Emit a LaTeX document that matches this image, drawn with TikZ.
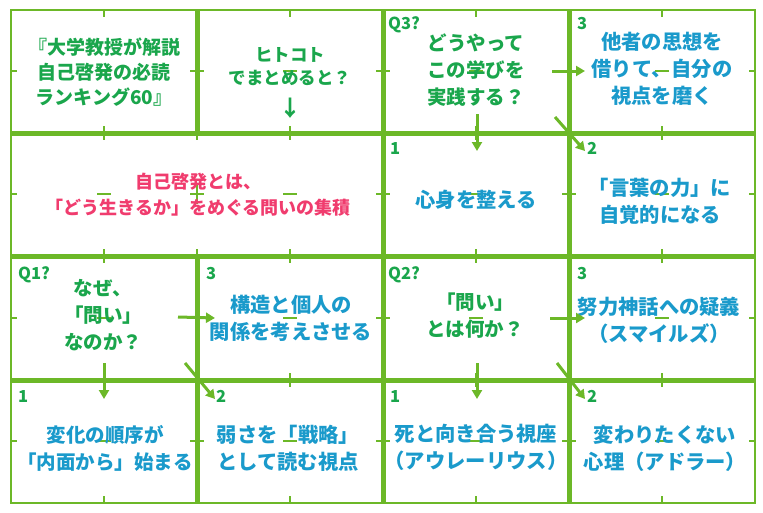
\documentclass[tikz,border=0pt]{standalone}
\usepackage{fontspec}
\setmainfont{Noto Sans CJK JP}
\usetikzlibrary{arrows.meta}
\definecolor{gline}{HTML}{6CB828}
\definecolor{gtext}{HTML}{1AA64C}
\definecolor{btext}{HTML}{1A9ACB}
\definecolor{ptext}{HTML}{F03C6E}
\tikzset{
  gridline/.style={draw=gline, line width=5pt},
  outerline/.style={draw=gline, line width=2.5pt},
  tickline/.style={draw=gline, line width=1.2pt},
  flowarrow/.style={draw=gline, line width=3pt, -{Triangle[length=9pt,width=10pt]}},
  celltext/.style={align=center, inner sep=0pt},
  qtext/.style={celltext, text=gtext, font=\fontsize{19.5}{27}\selectfont\bfseries},
  atext/.style={celltext, text=btext, font=\fontsize{20.3}{27}\selectfont\bfseries},
  ptextstyle/.style={celltext, text=ptext, font=\fontsize{18}{26}\selectfont\bfseries},
  numlabel/.style={anchor=base west, inner sep=0pt, text=gtext, font=\fontsize{16.5}{16}\selectfont\bfseries},
}
\begin{document}
\begin{tikzpicture}[x=1pt,y=-1pt]
\useasboundingbox (0,0) rectangle (763,512);
% ticks
\foreach \x in {104,197,290,476,662} {
  \foreach \y in {133,256,380} { \draw[tickline] (\x,\y-7) -- (\x,\y+7); }
}
\foreach \x in {104,290,476,662} {
  \draw[tickline] (\x,10) -- (\x,17);
  \draw[tickline] (\x,503) -- (\x,496);
  \foreach \y in {71,194,318,441} { \draw[tickline] (\x-7,\y) -- (\x+7,\y); }
}
\foreach \y in {71,194,318,441} {
  \foreach \x in {197,383,569} { \draw[tickline] (\x-7,\y) -- (\x+7,\y); }
  \draw[tickline] (11,\y) -- (17,\y);
  \draw[tickline] (755,\y) -- (749,\y);
}
\draw[tickline] (197,184) -- (197,204);
% grid
\draw[outerline] (11,10) rectangle (755,503);
\draw[gridline] (197,10) -- (197,133);
\draw[gridline] (197,256) -- (197,503);
\draw[gridline] (383,10) -- (383,503);
\draw[gridline] (569,10) -- (569,503);
\draw[gridline] (11,133) -- (755,133);
\draw[gridline] (11,256) -- (755,256);
\draw[gridline] (11,380) -- (755,380);
% texts
\node[qtext, font=\fontsize{19}{25}\selectfont\bfseries] (title) at (104,72) {『大学教授が解説\\自己啓発の必読\\ランキング60』};
\node[qtext, font=\fontsize{17.5}{23}\selectfont\bfseries] (hitokoto) at (290,67) {ヒトコト\\でまとめると？};
\node[celltext, text=gtext, font=\fontsize{22}{22}\selectfont\bfseries] (hitokotoarrow) at (290,108) {↓};
\node[qtext] (q3) at (476,70) {どうやって\\この学びを\\実践する？};
\node[atext] (q3a3) at (662,69) {他者の思想を\\借りて、自分の\\視点を磨く};
\node[ptextstyle] (core) at (198,195) {自己啓発とは、\\「どう生きるか」をめぐる問いの集積};
\node[atext] (q3a1) at (476,200) {心身を整える};
\node[atext] (q3a2) at (660,201) {「言葉の力」に\\自覚的になる};
\node[qtext] (q1) at (103,315) {なぜ、\\「問い」\\なのか？};
\node[atext] (q1a3) at (291,318) {構造と個人の\\関係を考えさせる};
\node[qtext] (q2) at (475,316) {「問い」\\とは何か？};
\node[atext] (q2a3) at (659,320) {努力神話への疑義\\（スマイルズ）};
\node[atext, font=\fontsize{19.5}{27}\selectfont\bfseries] (q1a1) at (105,448) {変化の順序が\\「内面から」始まる};
\node[atext] (q1a2) at (288,448) {弱さを「戦略」\\として読む視点};
\node[atext] (q2a1) at (476,447) {死と向き合う視座\\（アウレーリウス）};
\node[atext] (q2a2) at (665,448) {変わりたくない\\心理（アドラー）};
% labels
\node[numlabel] (lq3) at (388,29) {Q3?};
\node[numlabel] (lq3n3) at (577,29) {3};
\node[numlabel] (lq3n1) at (390,154) {1};
\node[numlabel] (lq3n2) at (587,154) {2};
\node[numlabel] (lq1) at (18,279) {Q1?};
\node[numlabel] (lq1n3) at (206,279) {3};
\node[numlabel] (lq2) at (388,279) {Q2?};
\node[numlabel] (lq2n3) at (577,279) {3};
\node[numlabel] (lq1n1) at (18,402) {1};
\node[numlabel] (lq1n2) at (216,402) {2};
\node[numlabel] (lq2n1) at (390,402) {1};
\node[numlabel] (lq2n2) at (587,402) {2};
% arrows
\coordinate (a1s) at (552,71);  \coordinate (a1e) at (585,71);
\coordinate (a2s) at (477,114); \coordinate (a2e) at (477,151);
\coordinate (a3s) at (555,117); \coordinate (a3e) at (585,151);
\coordinate (b1s) at (178,317); \coordinate (b1e) at (215,318);
\coordinate (b2s) at (104,363); \coordinate (b2e) at (104,399);
\coordinate (b3s) at (185,363); \coordinate (b3e) at (215,399);
\coordinate (c1s) at (550,318); \coordinate (c1e) at (585,318);
\coordinate (c2s) at (477,363); \coordinate (c2e) at (477,399);
\coordinate (c3s) at (557,363); \coordinate (c3e) at (585,399);
\draw[flowarrow] (a1s) -- (a1e);
\draw[flowarrow] (a2s) -- (a2e);
\draw[flowarrow] (a3s) -- (a3e);
\draw[flowarrow] (b1s) -- (b1e);
\draw[flowarrow] (b2s) -- (b2e);
\draw[flowarrow] (b3s) -- (b3e);
\draw[flowarrow] (c1s) -- (c1e);
\draw[flowarrow] (c2s) -- (c2e);
\draw[flowarrow] (c3s) -- (c3e);
\end{tikzpicture}
\end{document}
